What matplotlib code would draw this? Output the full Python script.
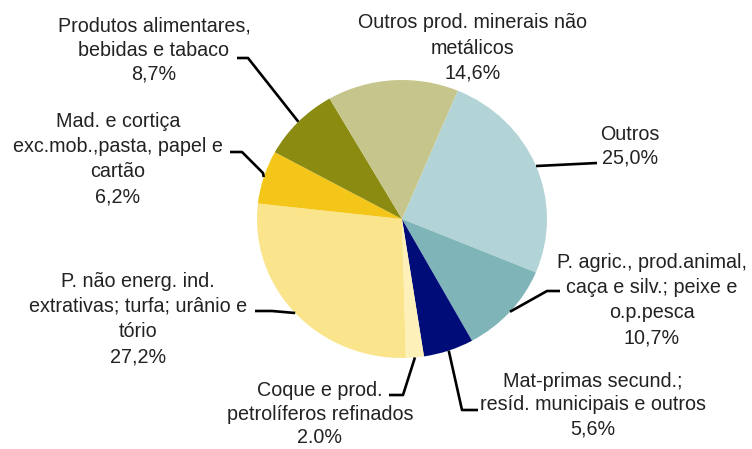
import numpy as np
import matplotlib
matplotlib.use("Agg")
import matplotlib.pyplot as plt

# shares of each product group (clockwise from "Outros")
labels = [
    "Outros",
    "P. agric., prod.animal,\ncaça e silv.; peixe e\no.p.pesca",
    "Mat-primas secund.;\nresíd. municipais e outros",
    "Coque e prod.\npetrolíferos refinados",
    "P. não energ. ind.\nextrativas; turfa; urânio e\ntório",
    "Mad. e cortiça\nexc.mob.,pasta, papel e\ncartão",
    "Produtos alimentares,\nbebidas e tabaco",
    "Outros prod. minerais não\nmetálicos",
]
values = [25.0, 10.7, 5.6, 2.0, 27.2, 6.2, 8.7, 14.6]
value_text = ["25,0%", "10,7%", "5,6%", "2.0%", "27,2%", "6,2%", "8,7%", "14,6%"]
colors = ["#b3d4d6", "#7fb5b8", "#000c78", "#fdf0b8",
          "#fbe58c", "#f5c61a", "#8a8b10", "#c6c68c"]

W, H = 752, 449
K = 145 / 139  # pie in the reference is a bit wider than tall


def P(x, y):
    # pixel position (top-left origin) -> data coords
    return (x / K, H - y)


fig = plt.figure(figsize=(W / 100, H / 100), dpi=100)
ax = fig.add_axes([0, 0, 1, 1])

cx, cy = P(402, 219)
r = 139
wedges, _ = ax.pie(values, colors=colors, startangle=67.4, counterclock=False,
                   center=(cx, cy), radius=r, wedgeprops=dict(linewidth=0))
ax.set_aspect("auto")
ax.set_xlim(0, W / K)
ax.set_ylim(0, H)
ax.axis("off")

# label block centre (px) and leader elbow / end (px), None = no leader
layout = [
    ((630, 146), [(597, 163)]),
    ((652, 300), [(547, 291), (560, 291)]),
    ((593, 405), [(462, 410), (478, 410)]),
    ((320, 414), [(403, 395), (389, 395)]),
    ((138, 319), [(272, 311), (255, 311)]),
    ((118, 159), [(263, 173), (242, 152), (230, 152)]),
    ((154, 50), [(248, 58), (237, 58)]),
    ((473, 48), None),
]

for w, lab, vt, (pos, leader) in zip(wedges, labels, value_text, layout):
    tx, ty = P(*pos)
    ls = 1.42 if len(lab.split("\n")) > 2 or leader is None else 1.32
    ax.text(tx, ty, lab + "\n" + vt, ha="center", va="center",
            multialignment="center", fontsize=14.2, color="#222222",
            family=["Liberation Sans", "DejaVu Sans"], linespacing=ls)
    if leader is None:
        continue
    mid = np.deg2rad((w.theta1 + w.theta2) / 2)
    ex, ey = cx + r * np.cos(mid), cy + r * np.sin(mid)
    pts = [(ex, ey)] + [P(*p) for p in leader]
    xs, ys = zip(*pts)
    ax.plot(xs, ys, color="black", lw=1.9, solid_capstyle="butt")

fig.savefig("out.png", dpi=100, facecolor="white")
